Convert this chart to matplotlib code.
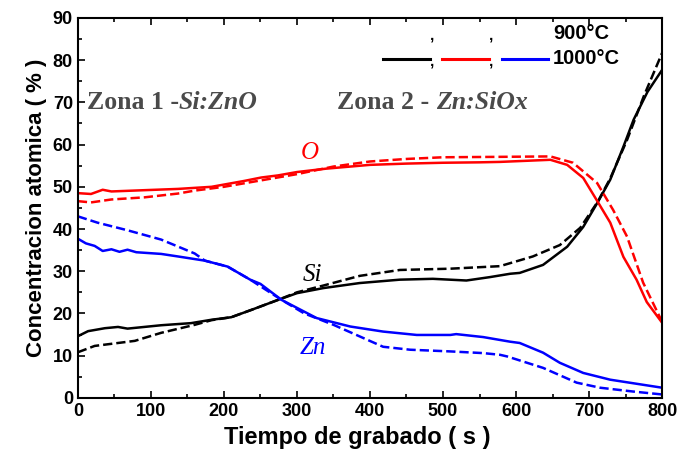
import numpy as np
import matplotlib.pyplot as plt
from matplotlib.ticker import MultipleLocator

# Si, 1000 C (solid) and 900 C (dashed)
t_si1 = [0, 14, 37, 55, 68, 91, 114, 155, 183, 210, 237, 274, 300, 336, 386, 441, 486, 532, 564, 592, 605, 637, 670, 692, 712, 729, 747, 761, 780, 800]
si1 = [14.6, 15.8, 16.5, 16.8, 16.4, 16.8, 17.2, 17.7, 18.5, 19.1, 20.8, 23.2, 24.8, 26, 27.2, 28, 28.2, 27.8, 28.6, 29.4, 29.6, 31.5, 35.8, 40.5, 46.4, 51.7, 59.5, 65.9, 72.5, 77.7]
t_si2 = [0, 23, 46, 78, 114, 160, 183, 210, 237, 274, 300, 336, 386, 441, 510, 578, 623, 660, 688, 712, 729, 752, 775, 800]
si2 = [10.8, 12.3, 12.8, 13.5, 15.4, 17.3, 18.4, 19.1, 20.8, 23.2, 25, 26.6, 28.9, 30.3, 30.6, 31.2, 33.5, 36.2, 40.3, 46.5, 52, 61.1, 71.5, 81.7]

# O
t_o1 = [0, 18, 34, 46, 91, 137, 183, 228, 251, 274, 300, 340, 400, 450, 500, 550, 578, 647, 670, 692, 712, 729, 747, 765, 779, 800]
o1 = [48.5, 48.3, 49.3, 48.9, 49.2, 49.5, 50, 51.4, 52.2, 52.7, 53.5, 54.3, 55.2, 55.5, 55.7, 55.8, 55.9, 56.4, 55.2, 52.1, 46.4, 41.5, 33.4, 28, 22.7, 17.8]
t_o2 = [0, 18, 46, 91, 137, 160, 200, 250, 300, 350, 400, 450, 500, 578, 647, 678, 711, 733, 752, 774, 800]
o2 = [46.6, 46.3, 47, 47.5, 48.4, 49.1, 50, 51.5, 53, 54.8, 56, 56.6, 57, 57.1, 57.2, 55.7, 50.9, 44.5, 38.2, 27.3, 18]

# Zn
t_zn1 = [0, 11, 23, 34, 46, 57, 68, 80, 114, 137, 174, 205, 236, 250, 279, 327, 373, 418, 464, 510, 518, 555, 592, 605, 637, 660, 692, 729, 800]
zn1 = [37.7, 36.6, 36, 34.8, 35.2, 34.6, 35.1, 34.5, 34.1, 33.5, 32.5, 31.1, 28, 27, 23.2, 18.9, 16.9, 15.7, 14.9, 14.9, 15.1, 14.4, 13.3, 13, 10.7, 8.3, 5.9, 4.3, 2.4]
t_zn2 = [0, 27, 68, 114, 160, 174, 205, 236, 279, 310, 350, 418, 455, 510, 555, 578, 588, 637, 683, 715, 760, 800]
zn2 = [43, 41.5, 39.7, 37.5, 34.2, 32.5, 31.1, 28, 23.2, 20, 17.3, 12.1, 11.4, 11, 10.6, 10.2, 9.8, 7.1, 3.6, 2.4, 1.5, 0.8]

fig = plt.figure(figsize=(6.77, 4.61), dpi=100)
ax = fig.add_axes([0.115, 0.137, 0.863, 0.824])

lw = 1.8
ax.plot(t_si1, si1, '-', color='black', lw=lw)
ax.plot(t_si2, si2, '--', color='black', lw=lw)
ax.plot(t_o1, o1, '-', color='red', lw=lw)
ax.plot(t_o2, o2, '--', color='red', lw=lw)
ax.plot(t_zn1, zn1, '-', color='blue', lw=lw)
ax.plot(t_zn2, zn2, '--', color='blue', lw=lw)

ax.set_xlim(0, 800)
ax.set_ylim(0, 90)
ax.xaxis.set_major_locator(MultipleLocator(100))
ax.xaxis.set_minor_locator(MultipleLocator(50))
ax.yaxis.set_major_locator(MultipleLocator(10))
ax.yaxis.set_minor_locator(MultipleLocator(5))
ax.tick_params(which='both', direction='in', top=True, right=False, width=1.2)
ax.tick_params(which='major', length=5, labelsize=13)
ax.tick_params(which='minor', length=3)
for s in ax.spines.values():
    s.set_linewidth(1.5)
for lab in ax.get_xticklabels() + ax.get_yticklabels():
    lab.set_fontweight('bold')
    lab.set_family('Liberation Sans')

ax.set_xlabel('Tiempo de grabado ( s )', fontsize=17, fontweight='bold', family='Liberation Sans')
ax.xaxis.set_label_coords(0.478, -0.074)
ax.set_ylabel('Concentracion atomica ( % )', fontsize=16, fontweight='bold', family='Liberation Sans')

# species labels
ax.text(318, 58, 'O', color='red', fontsize=18, style='italic', family='Liberation Serif', ha='center', va='center')
ax.text(321, 29.2, 'Si', color='black', fontsize=18, style='italic', family='Liberation Serif', ha='center', va='center')
ax.text(322, 11.8, 'Zn', color='blue', fontsize=18, style='italic', family='Liberation Serif', ha='center', va='center')

# zone labels
gray = '#4a4a4a'
z1 = ax.text(12, 69.9, 'Zona 1 -', color=gray, fontsize=18.5, fontweight='bold', family='Liberation Serif', va='center')
ax.annotate('Si:ZnO', xy=(1, 0.5), xycoords=z1, va='center', color=gray, fontsize=18.5,
            fontweight='bold', style='italic', family='Liberation Serif')
z2 = ax.text(355, 69.9, 'Zona 2 - ', color=gray, fontsize=18.5, fontweight='bold', family='Liberation Serif', va='center')
ax.annotate('Zn:SiOx', xy=(1, 0.5), xycoords=z2, va='center', color=gray, fontsize=18.5,
            fontweight='bold', style='italic', family='Liberation Serif')

# legend drawn by hand
tr = fig.transFigure
W, H = 677, 461
def fx(px): return px / W
def fy(py): return 1 - py / H
for (x0, x1), c in zip([(383, 430), (442, 489), (502, 548)], ['black', 'red', 'blue']):
    fig.add_artist(plt.Line2D([fx(x0), fx(x1)], [fy(59), fy(59)], color=c, lw=2.2, transform=tr))
for cx in [432, 491]:
    for cy in [36, 61]:
        fig.text(fx(cx), fy(cy), ',', fontsize=11, fontweight='bold', ha='center', va='center', family='Liberation Sans')
fig.text(fx(553), fy(33), '900°C', fontsize=14.5, fontweight='bold', va='center', family='Liberation Sans')
fig.text(fx(553), fy(59), '1000°C', fontsize=14.5, fontweight='bold', va='center', family='Liberation Sans')

fig.savefig('out.png', dpi=100)
